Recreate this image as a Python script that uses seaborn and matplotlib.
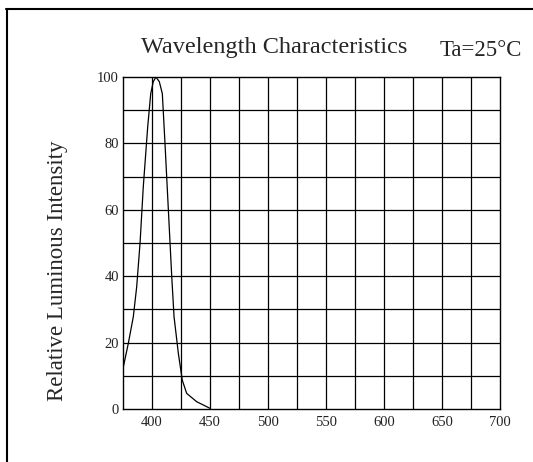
import matplotlib
matplotlib.use("Agg")
import matplotlib.pyplot as plt
import seaborn as sns
import pandas as pd
from matplotlib.lines import Line2D

# Data
wavelength = [375.3, 379.6, 383.9, 386.8, 389.7, 392.5, 396.3, 398.9, 401.1, 403.4,
              406.3, 408.9, 411.2, 414.1, 417.0, 419.0, 422.7, 426.1, 429.9, 438.5, 450.0]
intensity = [12.7, 19.8, 27.8, 36.8, 50.0, 67.0, 85.0, 95.0, 98.6, 100.0,
             98.6, 95.0, 80.0, 60.0, 40.0, 27.8, 16.8, 8.7, 4.7, 2.2, 0.2]
x_ticks = [400, 450, 500, 550, 600, 650, 700]
y_ticks = [0, 20, 40, 60, 80, 100]
title = "Wavelength Characteristics"
condition = "Ta=25°C"
ylabel = "Relative Luminous Intensity"

sns.set_style("white")
plt.rcParams['font.family'] = ['Liberation Serif', 'DejaVu Serif']

df = pd.DataFrame({"wavelength": wavelength, "intensity": intensity})

fig = plt.figure(figsize=(5.33, 4.62), dpi=100)
ax = fig.add_axes([123/533, 1-409/462, 377/533, 332/462])

sns.lineplot(data=df, x="wavelength", y="intensity", ax=ax, color="black",
             linewidth=0.9, sort=False)

ax.set_xlim(375, 700)
ax.set_ylim(0, 100)
for gx in range(400, 700, 25):
    ax.axvline(gx, color="black", linewidth=0.9, zorder=0)
for gy in range(10, 100, 10):
    ax.axhline(gy, color="black", linewidth=0.9, zorder=0)

ax.set_xticks(x_ticks)
ax.set_yticks(y_ticks)
ax.set_xticklabels([str(v) for v in x_ticks], fontsize=10.5, color="#222222")
ax.set_yticklabels([str(v) for v in y_ticks], fontsize=10.5, color="#222222")
ax.tick_params(axis="both", length=0)
ax.tick_params(axis="x", pad=5)
ax.tick_params(axis="y", pad=3)
ax.set_xlabel("")
ax.set_ylabel("")
for s in ax.spines.values():
    s.set_color("black")
    s.set_linewidth(1.0)
    s.set_visible(True)

fig.text(274/533, 1-47/462, title, ha="center", va="center", fontsize=17.5)
fig.text(481/533, 1-51/462, condition, ha="center", va="center", fontsize=16.5)
fig.text(58/533, 1-271/462, ylabel, ha="center", va="center", rotation=90, fontsize=16.5)

# Outer frame (top and left edges)
fig.add_artist(Line2D([6/533, 1.0], [1-8.5/462, 1-8.5/462], color="black", linewidth=1.5,
                      transform=fig.transFigure))
fig.add_artist(Line2D([7/533, 7/533], [0, 1-8.5/462], color="black", linewidth=1.5,
                      transform=fig.transFigure))

fig.savefig("out.png", dpi=100)
